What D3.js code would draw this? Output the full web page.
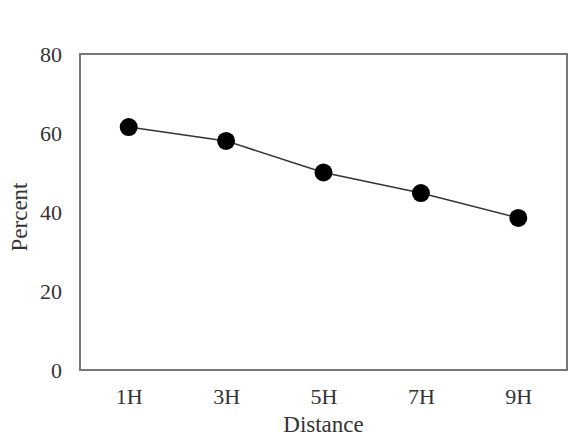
<!DOCTYPE html>
<html>
<head>
<meta charset="utf-8">
<script src="https://cdn.jsdelivr.net/npm/d3@7"></script>
<style>
  body { margin: 0; background: #fff; }
  text { font-family: "Liberation Serif", "Times New Roman", serif; fill: #333; }
</style>
</head>
<body>
<div class="canvas"></div>
<script>
const categories = ['1H', '3H', '5H', '7H', '9H'];
const percent = [61.5, 58, 50, 44.8, 38.5];
const yTicks = [0, 20, 40, 60, 80];

const margin = { top: 54, right: 8, bottom: 66, left: 80 };
const graphWidth = 575 - margin.left - margin.right;
const graphHeight = 436 - margin.top - margin.bottom;

const svg = d3.select('.canvas')
    .append('svg')
    .attr('width', 575)
    .attr('height', 436);

const graph = svg.append('g')
    .attr('transform', `translate(${margin.left},${margin.top})`);

// scales
const x = d3.scalePoint().domain(categories).range([0, graphWidth]).padding(0.5);
const y = d3.scaleLinear().domain([0, 80]).range([graphHeight, 0]);

// frame
graph.append('rect')
    .attr('width', graphWidth)
    .attr('height', graphHeight)
    .attr('fill', 'none')
    .attr('stroke', '#777')
    .attr('stroke-width', 2);

// axes
const xAxis = d3.axisBottom(x).tickSize(0).tickPadding(18);
const yAxis = d3.axisLeft(y).tickValues(yTicks).tickSize(0).tickPadding(18);

const xAxisGroup = graph.append('g')
    .attr('transform', `translate(0,${graphHeight})`)
    .call(xAxis);
const yAxisGroup = graph.append('g').call(yAxis);

[xAxisGroup, yAxisGroup].forEach(g => {
    g.select('.domain').remove();
    g.attr('font-size', 22)
        .attr('font-family', '"Liberation Serif", serif');
    g.selectAll('text').attr('fill', '#333');
});

// line
const line = d3.line()
    .x((d, i) => x(categories[i]))
    .y(d => y(d));

graph.append('path')
    .datum(percent)
    .attr('fill', 'none')
    .attr('stroke', '#333')
    .attr('stroke-width', 1.5)
    .attr('d', line);

graph.selectAll('circle')
    .data(percent)
    .enter()
    .append('circle')
    .attr('cx', (d, i) => x(categories[i]))
    .attr('cy', d => y(d))
    .attr('r', 9)
    .attr('fill', '#000');

// axis titles
svg.append('text')
    .attr('x', margin.left + graphWidth / 2)
    .attr('y', 432)
    .attr('text-anchor', 'middle')
    .attr('font-size', 23)
    .text('Distance');

svg.append('text')
    .attr('transform', `translate(27,${margin.top + graphHeight / 2 + 5}) rotate(-90)`)
    .attr('text-anchor', 'middle')
    .attr('font-size', 23)
    .text('Percent');
</script>
</body>
</html>
